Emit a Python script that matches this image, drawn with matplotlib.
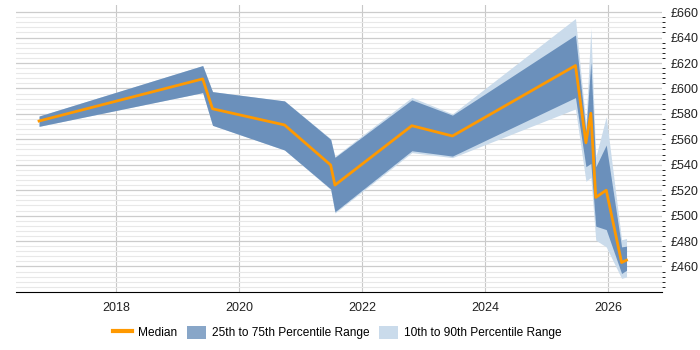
import numpy as np
import matplotlib.pyplot as plt
from matplotlib.patches import Patch
from matplotlib.lines import Line2D

plt.rcParams['font.family'] = ['Liberation Sans', 'DejaVu Sans']

# decimal years of each sample
years = [2016.75, 2019.41, 2019.57, 2020.74, 2021.49, 2021.56, 2022.81, 2023.47,
         2025.47, 2025.64, 2025.72, 2025.80, 2025.97, 2026.22, 2026.30]
median = [574.4, 607.5, 584.0, 571.3, 539.8, 524.0, 570.7, 562.6,
          618.0, 557.3, 580.5, 514.3, 520.0, 463.1, 465.0]
p25 = [570.2, 596.7, 571.0, 551.6, 521.0, 503.0, 551.0, 546.8,
       592.8, 538.5, 541.0, 491.7, 489.0, 454.5, 457.0]
p75 = [578.3, 618.0, 597.5, 590.2, 560.0, 545.8, 591.0, 579.0,
       642.0, 566.0, 621.0, 538.4, 555.5, 475.4, 476.0]
p10 = [570.2, 596.7, 571.0, 551.6, 520.5, 502.0, 549.5, 545.6,
       583.9, 527.0, 530.0, 480.7, 475.4, 450.6, 451.8]
p90 = [578.3, 618.0, 597.5, 590.2, 560.5, 546.5, 593.0, 580.0,
       655.0, 572.0, 647.4, 546.0, 577.8, 481.0, 482.0]

year_ticks = [2018, 2020, 2022, 2024, 2026]
price_ticks = list(range(460, 661, 20))

dark = '#6b90bb'
light = '#cadbeb'
orange = '#ff9900'

fig = plt.figure(figsize=(7, 3.5), dpi=100)
ax = fig.add_axes([0.0224, 0.166, 0.9236, 0.82])

ax.fill_between(years, p10, p90, color=light, lw=0, zorder=2)
ax.fill_between(years, p25, p75, color=dark, lw=0, zorder=3)
ax.plot(years, median, color=orange, lw=2, zorder=4)

ax.set_xlim(2016.37, 2026.88)
ax.set_ylim(440, 665.7)
ax.set_xticks(year_ticks)
ax.set_xticklabels([str(y) for y in year_ticks])
ax.set_yticks(price_ticks)
ax.set_yticklabels(['£%d' % p for p in price_ticks])
ax.set_yticks(np.arange(444, 661, 4), minor=True)

ax.yaxis.tick_right()
ax.tick_params(axis='both', length=0, labelsize=9, colors='#222222')
ax.tick_params(axis='y', pad=6)
ax.tick_params(axis='x', pad=7)

ax.grid(axis='y', which='major', color='#cccccc', lw=0.9, zorder=0)
ax.grid(axis='y', which='minor', color='#e8e8e8', lw=0.8, zorder=0)
ax.grid(axis='x', which='major', color='#c8c8c8', lw=0.8, zorder=0)
ax.set_axisbelow(True)

for s in ['left', 'right', 'top']:
    ax.spines[s].set_visible(False)
ax.spines['bottom'].set_color('#000000')

handles = [Line2D([0], [0], color=orange, lw=3),
           Patch(facecolor='#88a6c8', edgecolor='none'),
           Patch(facecolor=light, edgecolor='none')]
labels = ['Median', '25th to 75th Percentile Range', '10th to 90th Percentile Range']
fig.legend(handles, labels, loc='lower center', bbox_to_anchor=(0.482, 0.0),
           ncol=3, frameon=False, fontsize=8.6, handlelength=1.6, handleheight=1.35,
           columnspacing=0.8, handletextpad=0.5)

fig.savefig('out.png')
